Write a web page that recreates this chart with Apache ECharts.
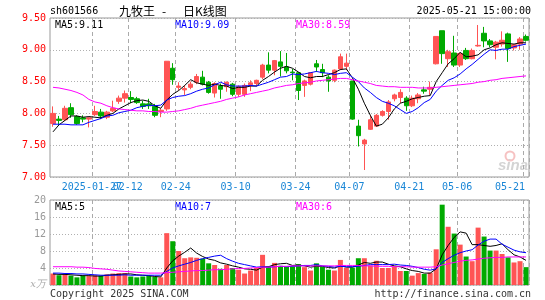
<!DOCTYPE html>
<html>
<head>
<meta charset="utf-8">
<title>九牧王 日K线图</title>
<script src="https://cdn.jsdelivr.net/npm/echarts@6/dist/echarts.min.js"></script>
<style>
  html, body { margin: 0; padding: 0; background: #fff; }
  #chart { width: 545px; height: 300px; }
</style>
</head>
<body>
<div id="chart"></div>
<script>
// 交易日
const dates = [
  '2025-01-16', '2025-01-17', '2025-01-20', '2025-01-21', '2025-01-22', '2025-01-23', '2025-01-24', '2025-01-27',
  '2025-02-05', '2025-02-06', '2025-02-07', '2025-02-10', '2025-02-11', '2025-02-12', '2025-02-13', '2025-02-14',
  '2025-02-17', '2025-02-18', '2025-02-19', '2025-02-20', '2025-02-21', '2025-02-24', '2025-02-25', '2025-02-26',
  '2025-02-27', '2025-02-28', '2025-03-03', '2025-03-04', '2025-03-05', '2025-03-06', '2025-03-07', '2025-03-10',
  '2025-03-11', '2025-03-12', '2025-03-13', '2025-03-14', '2025-03-17', '2025-03-18', '2025-03-19', '2025-03-20',
  '2025-03-21', '2025-03-24', '2025-03-25', '2025-03-26', '2025-03-27', '2025-03-28', '2025-03-31', '2025-04-01',
  '2025-04-02', '2025-04-03', '2025-04-07', '2025-04-08', '2025-04-09', '2025-04-10', '2025-04-11', '2025-04-14',
  '2025-04-15', '2025-04-16', '2025-04-17', '2025-04-18', '2025-04-21', '2025-04-22', '2025-04-23', '2025-04-24',
  '2025-04-25', '2025-04-28', '2025-04-29', '2025-04-30', '2025-05-06', '2025-05-07', '2025-05-08', '2025-05-09',
  '2025-05-12', '2025-05-13', '2025-05-14', '2025-05-15', '2025-05-16', '2025-05-19', '2025-05-20', '2025-05-21'
]
// 显示刻度的日期
const tickDates = ['2025-01-27', '2025-02-12', '2025-02-24', '2025-03-10', '2025-03-24',
  '2025-04-07', '2025-04-21', '2025-05-06', '2025-05-21']

const opens = [
  7.84, 7.91, 7.90, 8.09, 7.95, 7.93, 7.91, 7.98, 8.02, 7.94,
  8.04, 8.19, 8.24, 8.25, 8.23, 8.15, 8.15, 8.11, 8.03, 8.07,
  8.71, 8.41, 8.37, 8.41, 8.49, 8.57, 8.49, 8.32, 8.43, 8.42,
  8.46, 8.30, 8.30, 8.45, 8.47, 8.57, 8.76, 8.68, 8.81, 8.73,
  8.65, 8.64, 8.44, 8.46, 8.78, 8.69, 8.57, 8.52, 8.70, 8.74,
  8.51, 7.80, 7.52, 7.75, 7.80, 7.97, 8.03, 8.23, 8.25, 8.24,
  8.12, 8.23, 8.37, 8.38, 8.78, 9.30, 8.86, 8.95, 8.76, 8.99,
  8.86, 9.06, 9.26, 9.14, 9.04, 9.09, 9.25, 9.03, 9.09, 9.21
]
const closes = [
  8.00, 7.89, 8.08, 7.98, 7.84, 7.91, 7.93, 8.03, 7.96, 8.02,
  8.08, 8.24, 8.31, 8.22, 8.17, 8.11, 8.12, 7.97, 8.05, 8.82,
  8.53, 8.43, 8.39, 8.46, 8.58, 8.46, 8.33, 8.47, 8.38, 8.49,
  8.30, 8.42, 8.44, 8.48, 8.52, 8.76, 8.68, 8.83, 8.74, 8.67,
  8.64, 8.36, 8.51, 8.64, 8.73, 8.64, 8.51, 8.68, 8.89, 8.79,
  7.91, 7.65, 7.58, 7.90, 7.97, 8.03, 8.18, 8.29, 8.33, 8.12,
  8.24, 8.29, 8.35, 8.41, 9.21, 8.94, 8.97, 8.76, 8.94, 8.86,
  8.99, 9.07, 9.14, 9.08, 9.12, 9.15, 9.02, 9.08, 9.17, 9.15
]
const highs = [
  8.11, 7.96, 8.12, 8.16, 7.97, 7.97, 7.94, 8.12, 8.07, 8.04,
  8.20, 8.28, 8.36, 8.35, 8.26, 8.20, 8.23, 8.15, 8.08, 8.82,
  8.79, 8.49, 8.44, 8.50, 8.62, 8.67, 8.51, 8.49, 8.47, 8.50,
  8.48, 8.44, 8.47, 8.52, 8.53, 8.78, 8.96, 8.84, 8.98, 8.95,
  8.70, 8.65, 8.53, 8.65, 8.84, 8.78, 8.60, 8.69, 8.94, 8.94,
  8.51, 7.90, 7.60, 7.97, 7.99, 8.05, 8.21, 8.31, 8.38, 8.27,
  8.28, 8.32, 8.42, 8.50, 9.21, 9.30, 9.00, 9.22, 8.96, 9.03,
  9.02, 9.39, 9.36, 9.17, 9.14, 9.29, 9.27, 9.09, 9.20, 9.24
]
const lows = [
  7.79, 7.81, 7.88, 7.93, 7.82, 7.86, 7.78, 7.96, 7.91, 7.91,
  8.02, 8.15, 8.17, 8.16, 8.15, 8.07, 8.07, 7.94, 7.94, 8.04,
  8.45, 8.36, 8.29, 8.38, 8.46, 8.44, 8.31, 8.25, 8.23, 8.34,
  8.27, 8.26, 8.26, 8.35, 8.43, 8.54, 8.63, 8.60, 8.58, 8.63,
  8.52, 8.21, 8.26, 8.44, 8.65, 8.57, 8.34, 8.49, 8.68, 8.68,
  7.90, 7.48, 7.11, 7.74, 7.79, 7.95, 7.90, 8.19, 8.16, 8.04,
  8.10, 8.16, 8.31, 8.29, 8.77, 8.78, 8.73, 8.73, 8.73, 8.84,
  8.85, 9.05, 9.04, 9.04, 8.85, 9.05, 8.81, 8.99, 9.00, 9.13
]
const ma5 = [
  7.71, 7.82, 7.89, 7.96, 7.96, 7.94, 7.95, 7.94, 7.93, 7.97,
  8.00, 8.07, 8.12, 8.17, 8.20, 8.21, 8.19, 8.12, 8.08, 8.21,
  8.30, 8.36, 8.44, 8.53, 8.48, 8.46, 8.44, 8.46, 8.44, 8.43,
  8.39, 8.41, 8.41, 8.43, 8.43, 8.52, 8.58, 8.65, 8.71, 8.74,
  8.71, 8.65, 8.58, 8.56, 8.58, 8.58, 8.61, 8.64, 8.69, 8.70,
  8.56, 8.38, 8.16, 7.97, 7.80, 7.83, 7.93, 8.07, 8.16, 8.19,
  8.23, 8.25, 8.27, 8.28, 8.50, 8.64, 8.78, 8.86, 8.96, 8.89,
  8.90, 8.92, 9.00, 9.03, 9.08, 9.11, 9.10, 9.09, 9.11, 9.11
]
const ma10 = [
  7.83, 7.83, 7.83, 7.82, 7.82, 7.82, 7.86, 7.89, 7.92, 7.96,
  7.97, 8.01, 8.03, 8.05, 8.09, 8.11, 8.13, 8.12, 8.13, 8.21,
  8.25, 8.27, 8.28, 8.31, 8.35, 8.38, 8.40, 8.45, 8.49, 8.45,
  8.43, 8.43, 8.43, 8.44, 8.43, 8.46, 8.49, 8.53, 8.57, 8.58,
  8.62, 8.61, 8.62, 8.64, 8.66, 8.64, 8.63, 8.61, 8.63, 8.64,
  8.57, 8.50, 8.40, 8.33, 8.25, 8.19, 8.16, 8.12, 8.06, 8.00,
  8.03, 8.09, 8.17, 8.22, 8.35, 8.44, 8.52, 8.56, 8.62, 8.70,
  8.77, 8.85, 8.93, 9.00, 8.99, 9.01, 9.01, 9.05, 9.07, 9.09
]
const ma30 = [
  8.41, 8.40, 8.38, 8.36, 8.33, 8.29, 8.22, 8.18, 8.16, 8.12,
  8.09, 8.07, 8.06, 8.05, 8.04, 8.04, 8.03, 8.03, 8.02, 8.02,
  8.03, 8.04, 8.06, 8.08, 8.11, 8.13, 8.15, 8.17, 8.19, 8.22,
  8.24, 8.26, 8.29, 8.31, 8.33, 8.35, 8.37, 8.40, 8.42, 8.44,
  8.45, 8.47, 8.48, 8.49, 8.51, 8.52, 8.53, 8.54, 8.55, 8.55,
  8.53, 8.51, 8.49, 8.47, 8.44, 8.43, 8.42, 8.42, 8.41, 8.41,
  8.41, 8.40, 8.40, 8.40, 8.41, 8.42, 8.43, 8.44, 8.45, 8.46,
  8.47, 8.49, 8.50, 8.52, 8.53, 8.55, 8.56, 8.57, 8.58, 8.59
]
// 成交量（万）
const volumes = [
  2.7, 2.3, 2.5, 2.2, 1.8, 2.2, 2.1, 2.3, 2.2, 2.5,
  2.7, 2.8, 2.8, 2.0, 1.8, 2.0, 2.2, 1.9, 1.8, 12.2,
  10.3, 8.0, 6.3, 6.5, 6.4, 6.2, 5.1, 4.7, 3.8, 4.7,
  4.0, 3.6, 2.7, 3.4, 4.0, 7.1, 4.4, 5.2, 4.5, 4.3,
  4.4, 4.9, 4.2, 3.4, 5.1, 4.3, 3.6, 3.4, 5.9, 4.0,
  4.1, 6.3, 6.3, 4.6, 5.7, 4.0, 4.0, 4.3, 3.3, 3.3,
  2.2, 2.8, 2.6, 2.9, 8.4, 18.9, 13.7, 12.1, 9.5, 6.7,
  5.6, 13.5, 11.4, 8.1, 8.1, 7.3, 6.5, 5.3, 5.6, 4.2
]
const vma5 = [
  2.6, 2.5, 2.5, 2.4, 2.3, 2.2, 2.2, 2.1, 2.1, 2.3,
  2.4, 2.5, 2.6, 2.6, 2.4, 2.3, 2.2, 2.0, 1.9, 4.0,
  5.7, 6.8, 7.7, 8.7, 7.5, 6.7, 6.1, 5.8, 5.2, 4.9,
  4.5, 4.2, 3.8, 3.7, 3.5, 4.2, 4.3, 4.8, 5.0, 5.1,
  4.6, 4.7, 4.5, 4.2, 4.4, 4.4, 4.1, 4.0, 4.5, 4.2,
  4.2, 4.7, 5.3, 5.1, 5.4, 5.4, 4.9, 4.5, 4.3, 3.8,
  3.4, 3.2, 2.8, 2.8, 3.8, 7.1, 9.3, 11.2, 12.5, 12.2,
  9.5, 9.5, 9.3, 9.1, 9.3, 9.7, 8.3, 7.1, 6.6, 5.8
]
const vma10 = [
  2.8, 2.8, 2.7, 2.7, 2.6, 2.6, 2.5, 2.4, 2.3, 2.3,
  2.3, 2.3, 2.4, 2.3, 2.3, 2.3, 2.3, 2.3, 2.3, 3.2,
  4.0, 4.5, 4.9, 5.3, 5.8, 6.2, 6.5, 6.8, 7.0, 6.2,
  5.6, 5.1, 4.8, 4.5, 4.2, 4.3, 4.2, 4.3, 4.4, 4.3,
  4.4, 4.5, 4.6, 4.6, 4.8, 4.5, 4.4, 4.2, 4.4, 4.3,
  4.3, 4.4, 4.6, 4.8, 4.8, 4.8, 4.8, 4.9, 4.7, 4.6,
  4.4, 4.1, 3.7, 3.5, 3.8, 5.3, 6.2, 7.0, 7.6, 8.0,
  8.3, 9.4, 10.3, 10.8, 10.8, 9.6, 8.9, 8.2, 7.8, 7.6
]
const vma30 = [
  4.3, 4.3, 4.3, 4.3, 4.2, 4.2, 4.1, 3.9, 3.8, 3.7,
  3.5, 3.3, 3.2, 3.1, 3.0, 2.9, 2.8, 2.8, 2.8, 2.9,
  3.0, 3.1, 3.2, 3.3, 3.4, 3.4, 3.5, 3.6, 3.6, 3.7,
  3.8, 3.9, 3.9, 4.0, 4.1, 4.2, 4.2, 4.3, 4.4, 4.4,
  4.5, 4.5, 4.5, 4.5, 4.5, 4.5, 4.5, 4.5, 4.6, 4.6,
  4.6, 4.6, 4.5, 4.5, 4.4, 4.4, 4.4, 4.3, 4.3, 4.3,
  4.2, 4.2, 4.2, 4.2, 4.3, 4.7, 5.0, 5.3, 5.6, 5.8,
  5.9, 6.1, 6.3, 6.4, 6.5, 6.5, 6.6, 6.6, 6.6, 6.6
]

const UP = '#ff5454'
const DOWN = '#00aa00'
const MONO = "'DejaVu Sans Mono', monospace"
const DATE_COLOR = '#1a86d6'

const myChart = echarts.init(document.getElementById('chart'))

// 第一个日期标签单独放一条轴上，避免与 02-12 重叠时被隐藏
const firstTick = tickDates[0]
const isTick = (index, value) => tickDates.indexOf(value) >= 0
const isLaterTick = (index, value) => value !== firstTick && tickDates.indexOf(value) >= 0

const vSplit = {
  show: true,
  interval: isTick,
  lineStyle: { color: '#aaa', type: [4, 3], width: 1 }
}
const hSplit = {
  show: true,
  lineStyle: { color: '#b0b0b0', type: [1, 2], width: 1 }
}

const maLine = (name, data, color, xi) => ({
  name: name,
  type: 'line',
  data: data,
  xAxisIndex: xi,
  yAxisIndex: xi,
  symbol: 'none',
  silent: true,
  lineStyle: { color: color, width: 1 }
})

const txt = (x, y, text, color, align, font) => ({
  type: 'text',
  x: x,
  y: y,
  silent: true,
  style: {
    text: text,
    fill: color,
    align: align || 'left',
    verticalAlign: 'middle',
    font: font || '10px ' + MONO
  }
})

const dateRich = {
  a: { color: DATE_COLOR, fontSize: 10, fontFamily: MONO, padding: [0, 6, 0, 0] },
  b: { color: DATE_COLOR, fontSize: 10, fontFamily: MONO, padding: [0, 32, 0, 0] }
}

const options = {
  animation: false,
  backgroundColor: '#fff',
  grid: [
    { left: 50, right: 16, top: 18, height: 159, show: true, borderColor: '#999', borderWidth: 1 },
    { left: 50, right: 16, top: 200, height: 85, show: true, borderColor: '#999', borderWidth: 1 }
  ],
  xAxis: [
    {
      type: 'category',
      gridIndex: 0,
      position: 'bottom',
      data: dates,
      boundaryGap: true,
      axisLine: { show: false },
      axisTick: { show: false },
      axisLabel: {
        interval: isLaterTick,
        hideOverlap: false,
        margin: 5,
        formatter: function (value) {
          if (value === '2025-05-21') return '{b|' + value.slice(5) + '}'
          return '{a|' + value.slice(5) + '}'
        },
        rich: dateRich
      },
      splitLine: vSplit
    },
    {
      type: 'category',
      gridIndex: 1,
      data: dates,
      boundaryGap: true,
      axisLine: { show: false },
      axisTick: { show: false },
      axisLabel: { show: false },
      splitLine: vSplit
    },
    {
      type: 'category',
      gridIndex: 0,
      position: 'bottom',
      offset: 0,
      data: dates,
      boundaryGap: true,
      axisLine: { show: false },
      axisTick: { show: false },
      splitLine: { show: false },
      axisLabel: {
        interval: (index, value) => value === firstTick,
        showMinLabel: true,
        margin: 5,
        formatter: (value) => '{a|' + value + '}',
        rich: dateRich
      }
    }
  ],
  yAxis: [
    {
      type: 'value',
      gridIndex: 0,
      min: 7,
      max: 9.5,
      interval: 0.5,
      axisLine: { show: false },
      axisTick: { show: false },
      axisLabel: {
        color: '#ff0000',
        fontSize: 10,
        fontFamily: MONO,
        margin: 4,
        formatter: (v) => v.toFixed(2)
      },
      splitLine: hSplit
    },
    {
      type: 'value',
      gridIndex: 1,
      min: 0,
      max: 20,
      interval: 4,
      axisLine: { show: false },
      axisTick: { show: false },
      axisLabel: {
        color: '#999',
        fontSize: 10,
        fontFamily: MONO,
        margin: 4,
        formatter: (v) => (v === 0 ? '' : String(v))
      },
      splitLine: hSplit
    }
  ],
  series: [
    {
      name: '日K',
      type: 'candlestick',
      xAxisIndex: 0,
      yAxisIndex: 0,
      barWidth: 5,
      data: dates.map((d, i) => [opens[i], closes[i], lows[i], highs[i]]),
      itemStyle: {
        color: UP,
        color0: DOWN,
        borderColor: UP,
        borderColor0: DOWN,
        borderWidth: 1
      }
    },
    maLine('MA5', ma5, '#000000', 0),
    maLine('MA10', ma10, '#0000ff', 0),
    maLine('MA30', ma30, '#ff00ff', 0),
    {
      name: '成交量',
      type: 'bar',
      xAxisIndex: 1,
      yAxisIndex: 1,
      barWidth: 5,
      data: volumes.map((v, i) => ({
        value: v,
        itemStyle: { color: closes[i] >= opens[i] ? UP : DOWN }
      }))
    },
    maLine('VMA5', vma5, '#000000', 1),
    maLine('VMA10', vma10, '#0000ff', 1),
    maLine('VMA30', vma30, '#ff00ff', 1)
  ],
  graphic: [
    // 标题行
    txt(50, 11, 'sh601566', '#000'),
    txt(119, 11, '九牧王', '#000', 'left', "12px 'Noto Sans CJK SC'"),
    txt(164, 11, '-', '#000', 'center', "12px 'Noto Sans CJK SC'"),
    txt(183, 11, '日K线图', '#000', 'left', "12px 'Noto Sans CJK SC'"),
    txt(531, 11, '2025-05-21 15:00:00', '#000', 'right'),
    // 均线数值
    txt(55, 25, 'MA5:' + ma5[ma5.length - 1].toFixed(2), '#000'),
    txt(175, 25, 'MA10:' + ma10[ma10.length - 1].toFixed(2), '#0000ff'),
    txt(296, 25, 'MA30:' + ma30[ma30.length - 1].toFixed(2), '#ff00ff'),
    txt(55, 207, 'MA5:' + Math.floor(vma5[vma5.length - 1]), '#000'),
    txt(175, 207, 'MA10:' + Math.floor(vma10[vma10.length - 1]), '#0000ff'),
    txt(296, 207, 'MA30:' + Math.floor(vma30[vma30.length - 1]), '#ff00ff'),
    // 单位
    txt(46, 284, 'x万', '#aaa', 'right', "italic 10px 'DejaVu Serif'"),
    // 水印
    {
      type: 'circle',
      silent: true,
      shape: { cx: 510, cy: 156, r: 4.5 },
      style: { fill: 'none', stroke: 'rgba(235,120,120,0.45)', lineWidth: 2 }
    },
    txt(513, 166, 'sina', '#d4d4d4', 'center', "italic bold 15px 'Liberation Sans'"),
    // 底部
    txt(50, 294, 'Copyright 2025 SINA.COM', '#333'),
    txt(531, 294, 'http://finance.sina.com.cn', '#333', 'right')
  ]
}

myChart.setOption(options, true)
window.addEventListener('resize', () => {
  myChart.resize()
})
</script>
</body>
</html>
